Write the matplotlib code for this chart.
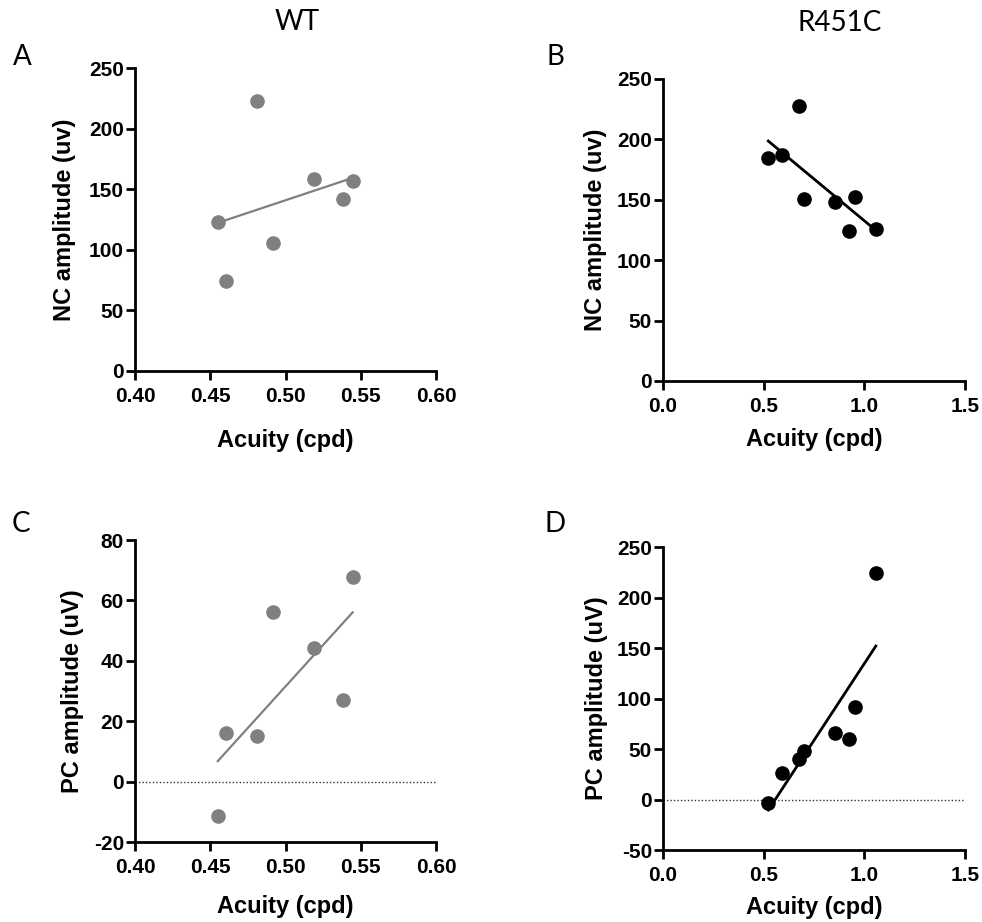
import numpy as np
import matplotlib
matplotlib.use("Agg")
import matplotlib.pyplot as plt

# ---- data ----
wt_acuity = [0.455, 0.4605, 0.481, 0.4915, 0.5192, 0.5384, 0.5446]
wt_nc = [122.9, 74.3, 222.8, 105.6, 158.1, 141.6, 156.8]
wt_pc = [-11.3, 16.2, 15.2, 56.2, 44.2, 27.1, 67.6]

mut_acuity = [0.523, 0.591, 0.674, 0.702, 0.853, 0.926, 0.952, 1.057]
mut_nc = [184.3, 186.8, 227.9, 150.4, 148.2, 124.2, 152.0, 125.6]
mut_pc = [-3.1, 26.0, 40.5, 48.1, 66.3, 60.0, 91.1, 224.2]

wt_xticks = [0.40, 0.45, 0.50, 0.55, 0.60]
mut_xticks = [0.0, 0.5, 1.0, 1.5]
nc_yticks = [0, 50, 100, 150, 200, 250]
wt_pc_yticks = [-20, 0, 20, 40, 60, 80]
mut_pc_yticks = [-50, 0, 50, 100, 150, 200, 250]

W, H = 982, 922
fig = plt.figure(figsize=(W / 100, H / 100), dpi=100)

TICKFONT = dict(family="Liberation Sans", weight="bold", size=15)
LABELFONT = dict(family="Liberation Sans", weight="bold", size=17)


def make_ax(px_left, px_top, px_right, px_bottom):
    return fig.add_axes([px_left / W, 1 - px_bottom / H,
                         (px_right - px_left) / W, (px_bottom - px_top) / H])


def style(ax, xticks, yticks, xfmt, ylabel, xlab_y, ylab_x):
    ax.set_xlim(xticks[0], xticks[-1])
    ax.set_ylim(yticks[0], yticks[-1])
    ax.set_xticks(xticks)
    ax.set_yticks(yticks)
    ax.set_xticklabels([xfmt.format(v) for v in xticks], fontdict=TICKFONT)
    ax.set_yticklabels([str(v) for v in yticks], fontdict=TICKFONT)
    for s in ["top", "right"]:
        ax.spines[s].set_visible(False)
    for s in ["left", "bottom"]:
        ax.spines[s].set_linewidth(2.0)
    ax.tick_params(axis="both", direction="out", length=6.5, width=2.0)
    ax.tick_params(axis="x", pad=5)
    ax.tick_params(axis="y", pad=1.5)
    ax.set_xlabel("Acuity (cpd)", fontdict=LABELFONT)
    ax.set_ylabel(ylabel, fontdict=LABELFONT)
    ax.xaxis.set_label_coords(0.5, xlab_y)
    ax.xaxis.label.set_va("center")
    ax.yaxis.set_label_coords(ylab_x, 0.5)
    ax.yaxis.label.set_va("center")


def scatter_fit(ax, x, y, color, lw):
    x = np.asarray(x)
    y = np.asarray(y)
    ax.plot(x, y, "o", color=color, markersize=9.5, zorder=3, clip_on=False)
    m, b = np.polyfit(x, y, 1)
    xs = np.array([x.min(), x.max()])
    ax.plot(xs, m * xs + b, "-", color=color, lw=lw, zorder=2)


GRAY = "#808080"

# Panel A
axA = make_ax(135, 68, 436, 371)
scatter_fit(axA, wt_acuity, wt_nc, GRAY, 1.6)
style(axA, wt_xticks, nc_yticks, "{:.2f}", "NC amplitude (uv)", -0.228, -0.233)

# Panel B
axB = make_ax(663, 79, 965, 381)
scatter_fit(axB, mut_acuity, mut_nc, "black", 2.0)
style(axB, mut_xticks, nc_yticks, "{:.1f}", "NC amplitude (uv)", -0.195, -0.225)

# Panel C
axC = make_ax(135, 540, 436, 842)
axC.axhline(0, color="#333333", lw=1.0, ls=(0, (1, 1.5)), zorder=1)
scatter_fit(axC, wt_acuity, wt_pc, GRAY, 1.6)
style(axC, wt_xticks, wt_pc_yticks, "{:.2f}", "PC amplitude (uV)", -0.215, -0.206)

# Panel D
axD = make_ax(663, 547, 965, 850)
axD.axhline(0, color="#333333", lw=1.0, ls=(0, (1, 1.5)), zorder=1)
scatter_fit(axD, mut_acuity, mut_pc, "black", 2.0)
style(axD, mut_xticks, mut_pc_yticks, "{:.1f}", "PC amplitude (uV)", -0.189, -0.219)

HEAD = dict(family="Lato", size=20, ha="center", va="center")
fig.text(297 / W, 1 - 22 / H, "WT", **HEAD)
fig.text(840 / W, 1 - 23 / H, "R451C", **HEAD)
for lab, x, y in [("A", 22, 57), ("B", 555, 57), ("C", 21, 524), ("D", 555, 524)]:
    fig.text(x / W, 1 - y / H, lab, **HEAD)

fig.savefig("out.png", dpi=100)
